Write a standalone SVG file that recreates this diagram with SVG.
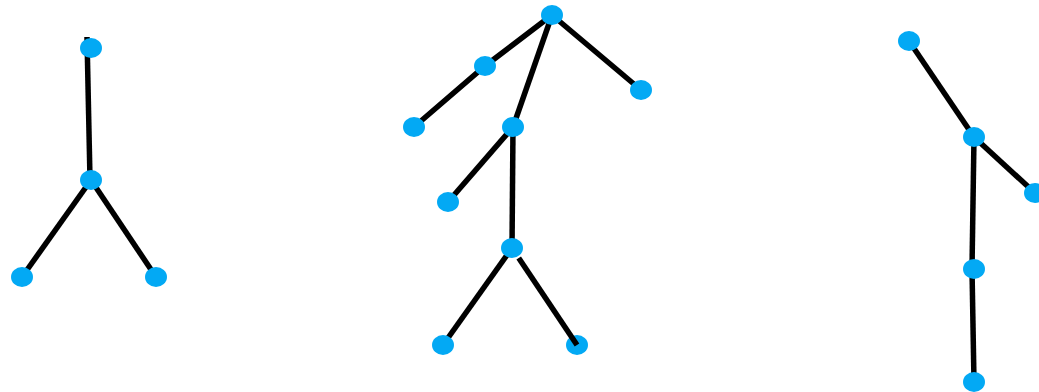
<svg xmlns="http://www.w3.org/2000/svg" width="1039" height="392" viewBox="0 0 1039 392">
<style>
.e{stroke:#000;stroke-width:5.5;fill:none;stroke-linecap:butt}
.n{fill:#03A9F4}
</style>
<rect width="1039" height="392" fill="#fff"/>
<g id="connectors">
<path class="e" d="M87 37 L90 180"/>
<path class="e" d="M91 180 L22 277"/>
<path class="e" d="M91 180 L156 277"/>
<path class="e" d="M552 15 L485 66 L414 127"/>
<path class="e" d="M552 15 L641 90"/>
<path class="e" d="M552 15 L513 127"/>
<path class="e" d="M513 127 L448 202"/>
<path class="e" d="M513 127 L512 248"/>
<path class="e" d="M512 248 L443 345"/>
<path class="e" d="M909 41 L974 137"/>
<path class="e" d="M974 137 L1035 193"/>
<path class="e" d="M974 137 L972 269"/>
<path class="e" d="M972 269 L974 382"/>
</g>
<g id="n1"><ellipse class="n" cx="91" cy="48" rx="11" ry="10"/></g>
<g id="n2"><ellipse class="n" cx="91" cy="180" rx="11" ry="10"/></g>
<g id="n3"><ellipse class="n" cx="22" cy="277" rx="11" ry="10"/></g>
<g id="n4"><ellipse class="n" cx="156" cy="277" rx="11" ry="10"/></g>
<g id="n5"><ellipse class="n" cx="552" cy="15" rx="11" ry="10"/></g>
<g id="n6"><ellipse class="n" cx="485" cy="66" rx="11" ry="10"/></g>
<g id="n7"><ellipse class="n" cx="414" cy="127" rx="11" ry="10"/></g>
<g id="n8"><ellipse class="n" cx="641" cy="90" rx="11" ry="10"/></g>
<g id="n9"><ellipse class="n" cx="513" cy="127" rx="11" ry="10"/></g>
<g id="n10"><ellipse class="n" cx="448" cy="202" rx="11" ry="10"/></g>
<g id="n11"><ellipse class="n" cx="512" cy="248" rx="11" ry="10"/></g>
<g id="n12"><ellipse class="n" cx="443" cy="345" rx="11" ry="10"/></g>
<g id="n13"><ellipse class="n" cx="577" cy="345" rx="11" ry="10"/></g>
<g id="n14"><ellipse class="n" cx="909" cy="41" rx="11" ry="10"/></g>
<g id="n15"><ellipse class="n" cx="974" cy="137" rx="11" ry="10"/></g>
<g id="n16"><ellipse class="n" cx="1035" cy="193" rx="11" ry="10"/></g>
<g id="n17"><ellipse class="n" cx="974" cy="269" rx="11" ry="10"/></g>
<g id="n18"><ellipse class="n" cx="974" cy="382" rx="11" ry="10"/></g>
<g id="connectors-top">
<path class="e" d="M518.7 258 L577 345"/>
</g>
</svg>
